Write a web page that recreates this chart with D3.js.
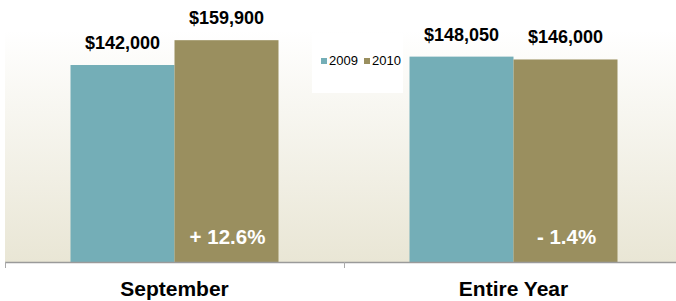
<!DOCTYPE html>
<html>
<head>
<meta charset="utf-8">
<script src="https://cdn.jsdelivr.net/npm/d3@7/dist/d3.min.js"></script>
<style>
  body { margin: 0; background: #fff; }
  svg { display: block; font-family: Arial, "Liberation Sans", sans-serif; }
</style>
</head>
<body>
<div id="chart"></div>
<script>
var categories = ["September", "Entire Year"];
var years = ["2009", "2010"];
var values2009 = [142000, 148050];
var values2010 = [159900, 146000];
var changes = ["+ 12.6%", "- 1.4%"];

var colors = { "2009": "#74aeb7", "2010": "#9a8f5f" };

var width = 676, height = 301;
var baseY = 262;

var svg = d3.select("#chart")
    .append("svg")
    .attr("width", width)
    .attr("height", height);

// background gradient
var grad = svg.append("defs")
    .append("linearGradient")
    .attr("id", "bg")
    .attr("x1", "0%").attr("y1", "0%")
    .attr("x2", "0%").attr("y2", "100%");
grad.append("stop").attr("offset", "0%").attr("stop-color", "#ffffff");
grad.append("stop").attr("offset", "100%").attr("stop-color", "#e9e6d5");

svg.append("rect")
    .attr("x", 5)
    .attr("y", 30)
    .attr("width", width - 5)
    .attr("height", baseY - 30)
    .attr("fill", "url(#bg)");

var data = categories.map(function (c, i) {
    return { cat: c, "2009": values2009[i], "2010": values2010[i], change: changes[i] };
});

var xScale = d3.scaleBand()
    .domain(categories)
    .range([5, 683]);

var xSub = d3.scaleBand()
    .domain(years)
    .range([65.5, 273.5]);

var yScale = d3.scaleLinear()
    .domain([0, 180000])
    .range([baseY, 12.3]);

var groups = svg.selectAll(".grp")
    .data(data)
    .enter()
    .append("g")
    .attr("class", "grp")
    .attr("transform", function (d) { return "translate(" + xScale(d.cat) + ",0)"; });

groups.selectAll("rect")
    .data(function (d) { return years.map(function (y) { return { year: y, value: d[y] }; }); })
    .enter()
    .append("rect")
    .attr("x", function (d) { return xSub(d.year); })
    .attr("y", function (d) { return yScale(d.value); })
    .attr("width", xSub.bandwidth())
    .attr("height", function (d) { return baseY - yScale(d.value); })
    .attr("fill", function (d) { return colors[d.year]; });

// value labels
groups.selectAll(".val")
    .data(function (d) { return years.map(function (y) { return { year: y, value: d[y] }; }); })
    .enter()
    .append("text")
    .attr("class", "val")
    .attr("x", function (d) { return xSub(d.year) + xSub.bandwidth() / 2; })
    .attr("y", function (d) { return yScale(d.value) - 16; })
    .attr("text-anchor", "middle")
    .style("font-size", "18px")
    .style("font-weight", "bold")
    .attr("fill", "#000")
    .text(function (d) { return "$" + d3.format(",")(d.value); });

// change labels
groups.append("text")
    .attr("x", xSub("2010") + xSub.bandwidth() / 2 + 1)
    .attr("y", 244)
    .attr("text-anchor", "middle")
    .style("font-size", "20.5px")
    .style("font-weight", "bold")
    .attr("fill", "#fff")
    .text(function (d) { return d.change; });

// x axis
var xAxis = svg.append("g")
    .attr("transform", "translate(0," + baseY + ")")
    .call(d3.axisBottom(xScale).tickSize(0).tickPadding(19));
xAxis.select(".domain").remove();
xAxis.selectAll("text")
    .style("font-size", "21px")
    .style("font-weight", "bold")
    .attr("fill", "#000")
    .style("font-family", "Arial, 'Liberation Sans', sans-serif");

svg.append("line")
    .attr("x1", 5).attr("x2", width)
    .attr("y1", baseY + 0.5).attr("y2", baseY + 0.5)
    .attr("stroke", "#9a9a9a")
    .attr("stroke-width", 1.5);

svg.selectAll(".tick-mark")
    .data([xScale(categories[0]), xScale(categories[1])])
    .enter()
    .append("line")
    .attr("class", "tick-mark")
    .attr("x1", function (d) { return d + 0.5; })
    .attr("x2", function (d) { return d + 0.5; })
    .attr("y1", baseY)
    .attr("y2", baseY + 6)
    .attr("stroke", "#aaa")
    .attr("stroke-width", 1);

// legend
var legend = svg.append("g").attr("transform", "translate(312,33)");
legend.append("rect")
    .attr("width", 91)
    .attr("height", 60)
    .attr("fill", "#fff");

var items = legend.selectAll(".item")
    .data(years)
    .enter()
    .append("g")
    .attr("transform", function (d, i) { return "translate(" + (9 + i * 43) + ",0)"; });
items.append("rect")
    .attr("y", 25)
    .attr("width", 6)
    .attr("height", 6)
    .attr("fill", function (d) { return colors[d]; });
items.append("text")
    .attr("x", 8)
    .attr("y", 32)
    .style("font-size", "13px")
    .attr("fill", "#000")
    .text(function (d) { return d; });
</script>
</body>
</html>
